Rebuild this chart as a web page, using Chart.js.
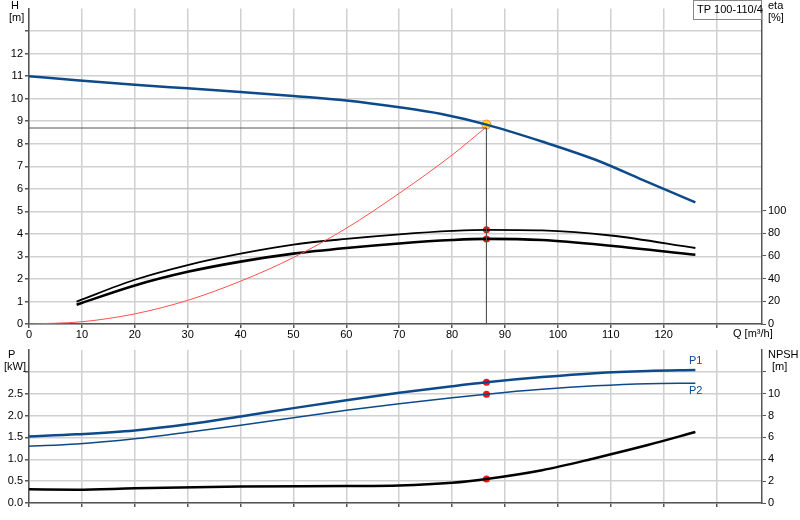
<!DOCTYPE html>
<html><head><meta charset="utf-8">
<script src="https://cdn.jsdelivr.net/npm/chart.js@4"></script>
<style>body{margin:0;background:#fff}#a{position:absolute;left:0;top:0}#b{position:absolute;left:0;top:340px}</style>
</head><body>
<div id="a" style="width:800px;height:340px"><canvas id="c1"></canvas></div>
<div id="b" style="width:800px;height:180px"><canvas id="c2"></canvas></div>
<script>
const qH=[0,9,20,30,40,50,60,70,78,86.5,97,107,116,126];
const hH=[11,10.82,10.62,10.46,10.3,10.12,9.92,9.62,9.32,8.85,8.1,7.3,6.4,5.4];
const qSys=[0,10,20,30,40,50,60,70,80,86.5];
const hSys=[0,0.1,0.45,1.05,1.9,2.95,4.25,5.8,7.5,8.75];
const qEta=[9,20,30,40,50,60,70,80,86.5,97,110,126];
const eta1=[19.8,39,52,62,70,75,79,82,83,82.5,78,67];
const eta2=[17,34,46,55,62,67,71,74,75,74,69,61];
const qP=[0,9,20,30,40,50,60,70,80,86.5,97,107,117,126];
const p1=[1.52,1.57,1.66,1.8,1.98,2.17,2.35,2.52,2.67,2.76,2.88,2.97,3.02,3.04];
const p2=[1.3,1.35,1.47,1.62,1.78,1.95,2.12,2.27,2.41,2.49,2.6,2.68,2.73,2.74];
const qN=[0,9,20,40,60,70,80,86.5,97,107,117,126];
const npsh=[1.25,1.22,1.35,1.5,1.55,1.6,1.85,2.2,3.0,4.1,5.3,6.5];
const opQ=86.5, opH=8.7;
const xy=(xs,ys)=>xs.map((x,i)=>({x,y:ys[i]}));
const F="'Liberation Sans', Arial, sans-serif";
Chart.defaults.font.family=F;Chart.defaults.font.size=11;Chart.defaults.color='#000';
const line=(d,c,w,axis,extra)=>Object.assign({data:d,borderColor:c,borderWidth:w,pointRadius:0,showLine:true,fill:false,cubicInterpolationMode:'monotone',yAxisID:axis||'y'},extra||{});
const grid={color:'#d0d0d0',lineWidth:1.5,tickColor:'#555',tickLength:4};
const xScale=(labels,h)=>({type:'linear',min:0,max:138.6,afterBuildTicks:s=>{s.ticks=[];for(let v=0;v<=130;v+=10)s.ticks.push({value:v});},
 ticks:{display:labels,callback:v=>v<=120?v:'',maxRotation:0,padding:0},grid:{...grid,drawTicks:true},border:{color:'#555',width:1.5},afterFit:s=>{s.height=h;}});
const fitL=s=>{s.width=29}, fitR=s=>{s.width=38};
const dot={pointRadius:3.5,backgroundColor:'#ff1010',borderColor:'#ff1010',borderWidth:0};
const txt={id:'txt',afterDraw(c,a,o){const x=c.ctx;x.save();x.font="11px "+F;(o.items||[]).forEach(t=>{x.textAlign=t.al||'left';x.fillStyle=t.c||'#000';x.fillText(t.s,t.x,t.y)});
 if(o.box){x.strokeStyle='#888';x.lineWidth=1;x.strokeRect(693.5,0.5,68,19);x.fillStyle='#000';x.textAlign='left';x.fillText('TP 100-110/4',697,13);}x.restore();}};
new Chart(document.getElementById('c1'),{type:'scatter',plugins:[txt],data:{datasets:[
 line(xy([0,opQ,opQ],[opH,opH,0]),'#555',1,'y',{cubicInterpolationMode:'default',tension:0}),
 line(xy(qSys,hSys),'#ff5050',1),
 line(xy(qH,hH),'#0d4a8a',2.5),
 line(xy(qEta,eta1),'#000',1.8,'eta'),
 line(xy(qEta,eta2),'#000',2.6,'eta'),
 Object.assign({data:[{x:opQ,y:83},{x:opQ,y:75}],yAxisID:'eta'},dot),
 {data:[{x:opQ,y:8.85}],pointRadius:4.5,backgroundColor:'#ffe020',borderColor:'#ff8030',borderWidth:1}
]},options:{animation:false,responsive:true,maintainAspectRatio:false,layout:{padding:0},
 plugins:{legend:{display:false},tooltip:{enabled:false},txt:{box:true,items:[{s:'H',x:11,y:9},{s:'[m]',x:9,y:21},{s:'eta',x:768,y:9},{s:'[%]',x:768,y:21},{s:'Q [m³/h]',x:733,y:337}]}},
 scales:{x:xScale(true,16),y:{min:0,max:14,afterBuildTicks:s=>{s.ticks=[];for(let v=0;v<=13;v++)s.ticks.push({value:v});},ticks:{callback:v=>v<=12?v:'',padding:2},grid,border:{color:'#555',width:1.5},afterFit:fitL},
 eta:{position:'right',min:0,max:278,afterBuildTicks:s=>{s.ticks=[];for(let v=0;v<=100;v+=20)s.ticks.push({value:v});},ticks:{padding:2},grid:{display:true,drawOnChartArea:false,tickColor:'#555',tickLength:4},border:{color:'#555',width:1.5},afterFit:fitR}}}});
new Chart(document.getElementById('c2'),{type:'scatter',plugins:[txt],data:{datasets:[
 line(xy(qP,p1),'#0d4a8a',2.5),
 line(xy(qP,p2),'#0d4a8a',1.5),
 line(xy(qN,npsh),'#000',2.5,'n'),
 Object.assign({data:[{x:opQ,y:2.76},{x:opQ,y:2.49}]},dot),
 Object.assign({data:[{x:opQ,y:2.2}],yAxisID:'n'},dot)
]},options:{animation:false,responsive:true,maintainAspectRatio:false,layout:{padding:{top:10,bottom:0}},
 plugins:{legend:{display:false},tooltip:{enabled:false},txt:{items:[{s:'P',x:8,y:18},{s:'[kW]',x:4,y:30},{s:'NPSH',x:768,y:18},{s:'[m]',x:772,y:30},{s:'P1',x:689,y:24,c:'#0d4a8a'},{s:'P2',x:689,y:54,c:'#0d4a8a'}]}},
 scales:{x:xScale(false,17),y:{min:0,max:3.5,afterBuildTicks:s=>{s.ticks=[];for(let v=0;v<=3;v+=0.5)s.ticks.push({value:v});},ticks:{callback:v=>v<=2.5?v.toFixed(1):'',padding:2},grid,border:{color:'#555',width:1.5},afterFit:fitL},
 n:{position:'right',min:0,max:14,afterBuildTicks:s=>{s.ticks=[];for(let v=0;v<=12;v+=2)s.ticks.push({value:v});},ticks:{callback:v=>v<=10?v:'',padding:2},grid:{display:true,drawOnChartArea:false,tickColor:'#555',tickLength:4},border:{color:'#555',width:1.5},afterFit:fitR}}}});
</script></body></html>
